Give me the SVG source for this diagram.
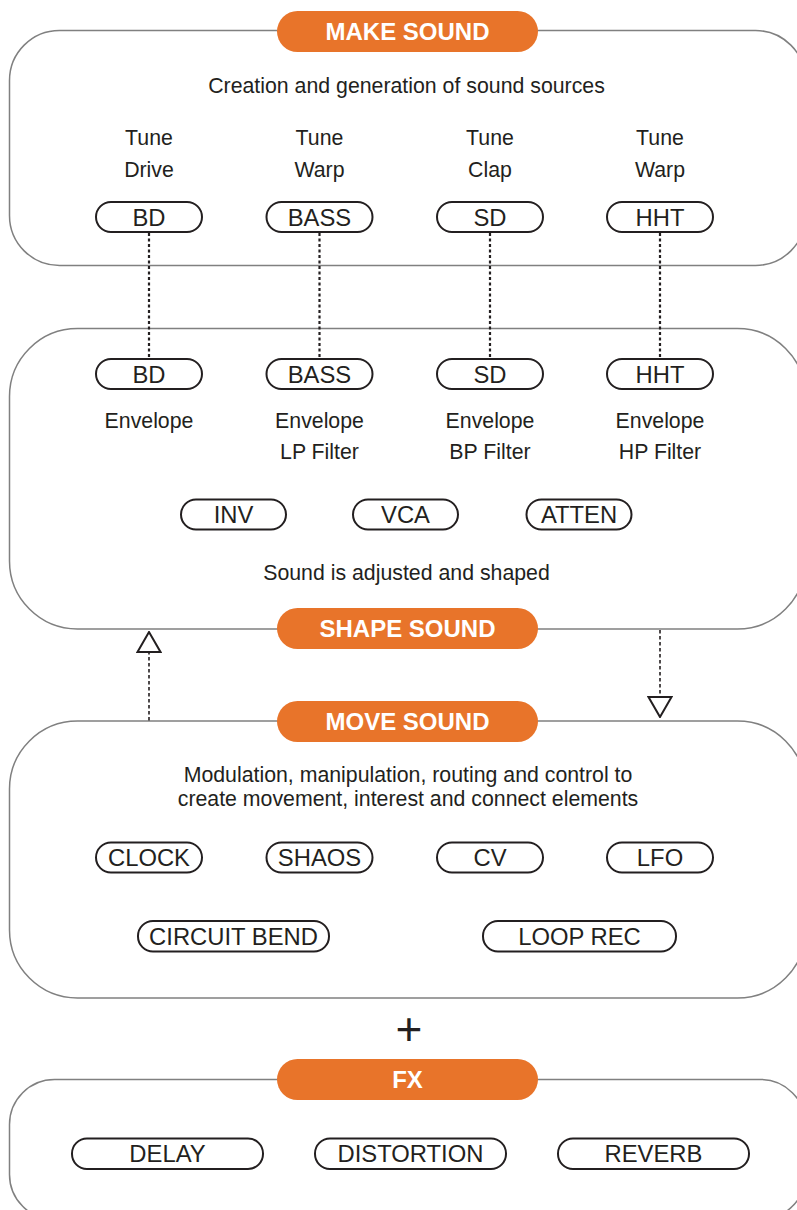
<svg xmlns="http://www.w3.org/2000/svg" width="797" height="1210" viewBox="0 0 797 1210">
<style>
.box{fill:none;stroke:#808080;stroke-width:1.5}
.head{fill:#E8742A}
.headt{fill:#fff;font-family:"Liberation Sans",Arial,sans-serif;font-weight:bold;font-size:24px;text-anchor:middle}
.pill{fill:#fff;stroke:#231F20;stroke-width:2}
.pt{fill:#231F20;font-family:"Liberation Sans",Arial,sans-serif;font-size:23.8px;text-anchor:middle}
.lbl{fill:#231F20;font-family:"Liberation Sans",Arial,sans-serif;font-size:21.3px;text-anchor:middle}
.dot{stroke:#231F20;stroke-width:2.2;stroke-dasharray:3 2.5;fill:none}
.dash{stroke:#231F20;stroke-width:1.6;stroke-dasharray:3.5 2.5;fill:none}
</style>
<defs>
<marker id="tri" viewBox="0 0 22 26" refX="21" refY="13" markerWidth="22" markerHeight="26" markerUnits="userSpaceOnUse" orient="auto">
<path d="M1,1.5 L21,13 L1,24.5 Z" fill="#fff" stroke="#231F20" stroke-width="2"/>
</marker>
</defs>
<rect width="797" height="1210" fill="#fff"/>

<g id="make-sound">
<rect class="box" x="9.5" y="30.5" width="796" height="235" rx="50" ry="50"/>
<rect class="head" x="277" y="11" width="261" height="41" rx="20.5"/>
<text class="headt" x="407.5" y="39.8">MAKE SOUND</text>
<text class="lbl" x="406.5" y="93">Creation and generation of sound sources</text>
<text class="lbl" x="149" y="145">Tune</text><text class="lbl" x="149" y="177">Drive</text>
<text class="lbl" x="319.5" y="145">Tune</text><text class="lbl" x="319.5" y="177">Warp</text>
<text class="lbl" x="490" y="145">Tune</text><text class="lbl" x="490" y="177">Clap</text>
<text class="lbl" x="660" y="145">Tune</text><text class="lbl" x="660" y="177">Warp</text>
</g>
<g id="make-bd"><rect class="pill" x="96" y="202" width="106" height="30" rx="15"/><text class="pt" x="149" y="225.5">BD</text></g>
<g id="make-bass"><rect class="pill" x="266.5" y="202" width="106" height="30" rx="15"/><text class="pt" x="319.5" y="225.5">BASS</text></g>
<g id="make-sd"><rect class="pill" x="437" y="202" width="106" height="30" rx="15"/><text class="pt" x="490" y="225.5">SD</text></g>
<g id="make-hht"><rect class="pill" x="607" y="202" width="106" height="30" rx="15"/><text class="pt" x="660" y="225.5">HHT</text></g>

<g id="shape-sound">
<rect class="box" x="9.5" y="328.5" width="796" height="300.5" rx="68" ry="68"/>
<rect class="head" x="277" y="608" width="261" height="41" rx="20.5"/>
<text class="headt" x="407.5" y="636.8">SHAPE SOUND</text>
<text class="lbl" x="149" y="428.3">Envelope</text>
<text class="lbl" x="319.5" y="428.3">Envelope</text><text class="lbl" x="319.5" y="459.3">LP Filter</text>
<text class="lbl" x="490" y="428.3">Envelope</text><text class="lbl" x="490" y="459.3">BP Filter</text>
<text class="lbl" x="660" y="428.3">Envelope</text><text class="lbl" x="660" y="459.3">HP Filter</text>
<text class="lbl" x="406.5" y="580">Sound is adjusted and shaped</text>
</g>
<g id="shape-bd"><rect class="pill" x="96" y="359" width="106" height="30" rx="15"/><text class="pt" x="149" y="382.5">BD</text></g>
<g id="shape-bass"><rect class="pill" x="266.5" y="359" width="106" height="30" rx="15"/><text class="pt" x="319.5" y="382.5">BASS</text></g>
<g id="shape-sd"><rect class="pill" x="437" y="359" width="106" height="30" rx="15"/><text class="pt" x="490" y="382.5">SD</text></g>
<g id="shape-hht"><rect class="pill" x="607" y="359" width="106" height="30" rx="15"/><text class="pt" x="660" y="382.5">HHT</text></g>
<g id="inv"><rect class="pill" x="181" y="499.5" width="105" height="30" rx="15"/><text class="pt" x="233.5" y="523">INV</text></g>
<g id="vca"><rect class="pill" x="353" y="499.5" width="105" height="30" rx="15"/><text class="pt" x="405.5" y="523">VCA</text></g>
<g id="atten"><rect class="pill" x="526.5" y="499.5" width="105" height="30" rx="15"/><text class="pt" x="579" y="523">ATTEN</text></g>

<g id="move-sound">
<rect class="box" x="9.5" y="721" width="796" height="277" rx="68" ry="68"/>
<rect class="head" x="277" y="701" width="261" height="41" rx="20.5"/>
<text class="headt" x="407.5" y="729.8">MOVE SOUND</text>
<text class="lbl" x="408" y="782">Modulation, manipulation, routing and control to</text>
<text class="lbl" x="408" y="806">create movement, interest and connect elements</text>
</g>
<g id="clock"><rect class="pill" x="96" y="842.5" width="106" height="30" rx="15"/><text class="pt" x="149" y="866">CLOCK</text></g>
<g id="shaos"><rect class="pill" x="266.5" y="842.5" width="106" height="30" rx="15"/><text class="pt" x="319.5" y="866">SHAOS</text></g>
<g id="cv"><rect class="pill" x="437" y="842.5" width="106" height="30" rx="15"/><text class="pt" x="490" y="866">CV</text></g>
<g id="lfo"><rect class="pill" x="607" y="842.5" width="106" height="30" rx="15"/><text class="pt" x="660" y="866">LFO</text></g>
<g id="circuit-bend"><rect class="pill" x="138" y="921" width="191" height="30.5" rx="15"/><text class="pt" x="233.5" y="944.5">CIRCUIT BEND</text></g>
<g id="loop-rec"><rect class="pill" x="483" y="921" width="193" height="30.5" rx="15"/><text class="pt" x="579.5" y="944.5">LOOP REC</text></g>

<g id="plus"><text x="409" y="1045" fill="#231F20" font-family="'Liberation Sans',Arial,sans-serif" font-size="46" text-anchor="middle">+</text></g>

<g id="fx">
<rect class="box" x="9.5" y="1079.5" width="796" height="140" rx="45" ry="45"/>
<rect class="head" x="277" y="1059" width="261" height="41" rx="20.5"/>
<text class="headt" x="407.5" y="1087.8">FX</text>
</g>
<g id="delay"><rect class="pill" x="72" y="1138.5" width="191" height="30.5" rx="15"/><text class="pt" x="167.5" y="1162">DELAY</text></g>
<g id="distortion"><rect class="pill" x="315" y="1138.5" width="191" height="30.5" rx="15"/><text class="pt" x="410.5" y="1162">DISTORTION</text></g>
<g id="reverb"><rect class="pill" x="558" y="1138.5" width="191" height="30.5" rx="15"/><text class="pt" x="653.5" y="1162">REVERB</text></g>

<g id="connectors">
<line class="dot" x1="149" y1="233" x2="149" y2="358"/>
<line class="dot" x1="319.5" y1="233" x2="319.5" y2="358"/>
<line class="dot" x1="490" y1="233" x2="490" y2="358"/>
<line class="dot" x1="660" y1="233" x2="660" y2="358"/>
<line class="dash" x1="149" y1="720.5" x2="149" y2="632" marker-end="url(#tri)"/>
<line class="dash" x1="660" y1="630" x2="660" y2="717" marker-end="url(#tri)"/>
</g>
</svg>
